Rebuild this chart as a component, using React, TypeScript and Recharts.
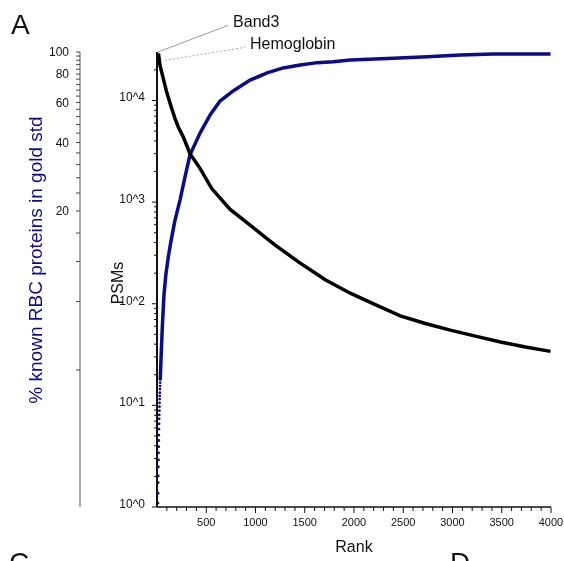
import { LineChart, Line, XAxis, YAxis, ReferenceLine } from 'recharts';

// % known RBC proteins (left, log axis) - isolated points at the very first ranks
const dotRanks = [10, 11, 12, 13, 14, 15, 16, 17, 18, 19, 20, 21, 22, 23, 24, 25, 26, 27, 28, 29, 30, 31, 32];
const dotPct = [1.04, 1.15, 1.28, 1.37, 1.5, 1.61, 1.73, 1.84, 1.96, 2.07, 2.2, 2.32, 2.44, 2.54, 2.65, 2.76, 2.87, 2.98, 3.08, 3.18, 3.3, 3.4, 3.52];

// % known RBC proteins - continuous part
const pctRanks = [33, 40, 54, 71, 91, 115, 140, 180, 234, 290, 335, 437, 539, 640, 773, 945, 1118, 1281, 1454, 1626, 1789, 1962, 2399, 2744, 3080, 3415, 3995];
const pctValues = [3.6, 4.4, 6.2, 8.6, 10.6, 12.6, 14.6, 18, 22.4, 29, 35.3, 44, 52.9, 60.9, 67.4, 75.3, 80.9, 85.1, 87.7, 89.8, 90.7, 92.2, 93.8, 95.4, 97.0, 98.0, 98.0];

// PSMs per protein rank (log axis)
const psmRanks = [15, 30, 64, 98, 139, 183, 216, 267, 335, 437, 556, 740, 945, 1200, 1454, 1708, 1962, 2216, 2470, 2724, 2978, 3232, 3487, 3741, 3995];
const psmValues = [29100, 22200, 16400, 12100, 8970, 6640, 5490, 4370, 3000, 2150, 1360, 851, 593, 377, 251, 172, 127, 98, 76, 64, 55, 48, 42, 37.5, 34];

const xTicks = Array.from({ length: 40 }, (_, i) => (i + 1) * 100);
const pctTicks = Array.from({ length: 25 }, (_, i) => (i + 1) * 4);
const pctLabels = [20, 40, 60, 80, 100];
const psmDecades = [1, 10, 100, 1000, 10000];
const psmTicks = psmDecades.flatMap((d) => [1, 2, 3, 4, 5, 6, 7, 8, 9].map((m) => m * d)).filter((v) => v <= 20000);

const dotData = dotRanks.map((rank, i) => ({ rank, pct: dotPct[i] }));
const pctData = pctRanks.map((rank, i) => ({ rank, pct: pctValues[i] }));
const psmData = psmRanks.map((rank, i) => ({ rank, psm: psmValues[i] }));

const BLUE = '#0b0b8c';
const FONT = '"Liberation Sans", Arial, sans-serif';

function XTick({ x, y, payload }: any) {
  const major = payload.value % 500 === 0;
  return (
    <g>
      <line x1={x} x2={x} y1={y} y2={y + (major ? 6 : 4)} stroke="#111" strokeWidth={1} />
      {major && (
        <text x={x} y={y + 19} textAnchor="middle" fontSize={11} fill="#111" fontFamily={FONT}>
          {payload.value}
        </text>
      )}
    </g>
  );
}

function PsmTick({ x, y, payload }: any) {
  const exp = Math.log10(payload.value);
  const major = Math.abs(exp - Math.round(exp)) < 1e-9;
  return (
    <g>
      <line x1={x - (major ? 5 : 3)} x2={x} y1={y} y2={y} stroke="#111" strokeWidth={1} />
      {major && (
        <text x={x - 12} y={y + 1} textAnchor="end" fontSize={12} fill="#111" fontFamily={FONT}>
          {`10^${Math.round(exp)}`}
        </text>
      )}
    </g>
  );
}

function PctTick({ x, y, payload }: any) {
  const labelled = pctLabels.includes(payload.value);
  return (
    <g>
      <line x1={x - 4} x2={x} y1={y} y2={y} stroke="#444" strokeWidth={1} />
      {labelled && (
        <text x={x - 11} y={y + 4.3} textAnchor="end" fontSize={12} fill="#111" fontFamily={FONT}>
          {payload.value}
        </text>
      )}
    </g>
  );
}

const PsmLabel = ({ viewBox }: any) => {
  const cx = viewBox.x + 37;
  const cy = viewBox.y + viewBox.height / 2 + 3.5;
  return (
    <text x={cx} y={cy} transform={`rotate(-90 ${cx} ${cy})`} textAnchor="middle" dominantBaseline="central" fontSize={16} fill="#111" fontFamily={FONT}>
      PSMs
    </text>
  );
};

const PctLabel = ({ viewBox }: any) => {
  const cx = viewBox.x + 27;
  const cy = viewBox.y + viewBox.height / 2 - 19.5;
  return (
    <text x={cx} y={cy} transform={`rotate(-90 ${cx} ${cy})`} textAnchor="middle" dominantBaseline="central" fontSize={19} fill={BLUE} fontFamily={FONT}>
      % known RBC proteins in gold std
    </text>
  );
};

const endLabel = (text: string) => ({ viewBox }: any) => (
  <text x={viewBox.x + viewBox.width + 5} y={viewBox.y - 4} dominantBaseline="central" fontSize={16} fill="#111" fontFamily={FONT}>
    {text}
  </text>
);

const letterStyle = { position: 'absolute' as const, fontSize: 28, lineHeight: 1, color: '#111', fontFamily: FONT };

export default function App() {
  return (
    <div style={{ position: 'fixed', left: 8, top: 8, width: 556, height: 553, overflow: 'hidden', fontFamily: FONT }}>
      <style>{'svg { overflow: visible; }'}</style>
      <div style={{ ...letterStyle, left: 3, top: 3 }}>A</div>
      <div style={{ ...letterStyle, left: 1, top: 541 }}>C</div>
      <div style={{ ...letterStyle, left: 442, top: 541 }}>D</div>
      <LineChart width={556} height={545} margin={{ top: 44, right: 13, bottom: 0, left: 0 }}>
        <XAxis
          xAxisId="x"
          type="number"
          dataKey="rank"
          domain={[0, 4000]}
          allowDataOverflow
          ticks={xTicks}
          interval={0}
          tickSize={0}
          tickMargin={0}
          tickLine={false}
          tick={<XTick />}
          axisLine={{ stroke: '#111', strokeWidth: 1.5 }}
          height={46}
          label={{ value: 'Rank', position: 'insideBottom', offset: 1, fontSize: 16, fill: '#111' }}
        />
        <XAxis
          xAxisId="top"
          orientation="top"
          type="number"
          domain={[0, 4000]}
          height={0}
          tick={false}
          tickLine={false}
          axisLine={{ stroke: '#8c8c8c', strokeWidth: 2 }}
        />
        <YAxis
          yAxisId="inner"
          type="number"
          scale="log"
          domain={[1, 30000]}
          allowDataOverflow
          ticks={psmTicks}
          interval={0}
          width={77}
          tickSize={0}
          tickMargin={0}
          tickLine={false}
          tick={<PsmTick />}
          axisLine={{ stroke: '#111', strokeWidth: 2 }}
          label={<PsmLabel />}
        />
        <YAxis
          yAxisId="outer"
          type="number"
          scale="log"
          domain={[1, 100]}
          allowDataOverflow
          ticks={pctTicks}
          interval={0}
          width={72}
          tickSize={0}
          tickMargin={0}
          tickLine={false}
          tick={<PctTick />}
          axisLine={{ stroke: '#555', strokeWidth: 1 }}
          label={<PctLabel />}
        />
        <YAxis
          yAxisId="right"
          orientation="right"
          type="number"
          domain={[0, 1]}
          width={0}
          tick={false}
          tickLine={false}
          axisLine={{ stroke: '#333', strokeWidth: 1 }}
        />
        <ReferenceLine
          xAxisId="x"
          yAxisId="inner"
          segment={[{ x: 10, y: 30000 }, { x: 722, y: 54800 }]}
          ifOverflow="visible"
          stroke="#9a9a9a"
          strokeWidth={1}
          label={endLabel('Band3')}
        />
        <ReferenceLine
          xAxisId="x"
          yAxisId="inner"
          segment={[{ x: 81, y: 24800 }, { x: 894, y: 33400 }]}
          ifOverflow="visible"
          stroke="#aaaaaa"
          strokeWidth={1}
          strokeDasharray="2 2"
          label={endLabel('Hemoglobin')}
        />
        <Line
          xAxisId="x"
          yAxisId="outer"
          data={dotData}
          dataKey="pct"
          stroke="none"
          dot={{ r: 1.4, fill: BLUE, stroke: 'none' }}
          isAnimationActive={false}
        />
        <Line
          xAxisId="x"
          yAxisId="outer"
          data={pctData}
          dataKey="pct"
          stroke={BLUE}
          strokeWidth={3.5}
          dot={false}
          isAnimationActive={false}
        />
        <Line
          xAxisId="x"
          yAxisId="inner"
          data={psmData}
          dataKey="psm"
          stroke="#000"
          strokeWidth={3.5}
          dot={false}
          isAnimationActive={false}
        />
      </LineChart>
    </div>
  );
}
